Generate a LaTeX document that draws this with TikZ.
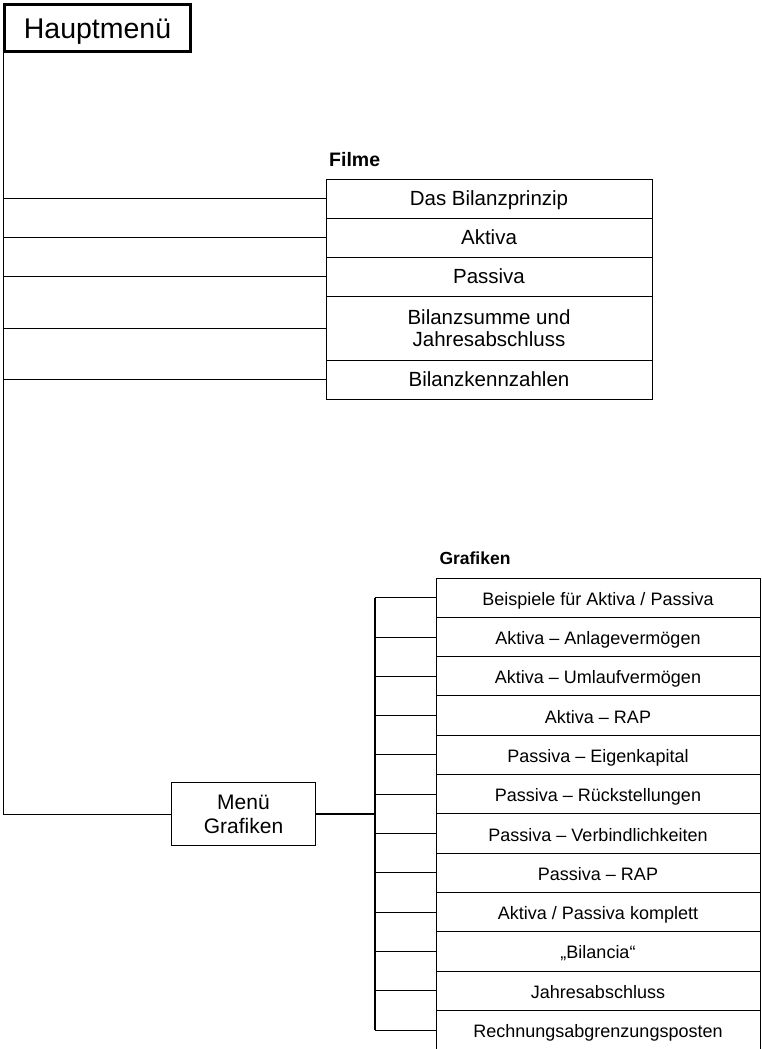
\documentclass[tikz,border=0pt]{standalone}
\usepackage{fontspec}
\setmainfont{Liberation Sans}
\usetikzlibrary{positioning}
\tikzset{
	zeile/.style={draw,line width=0.9pt,inner sep=0pt,outer sep=0pt,align=center},
	film/.style={zeile,minimum width=326pt,minimum height=39pt,text height=14.7pt,text depth=0pt,font=\fontsize{20.5}{22}\selectfont},
	grafik/.style={zeile,minimum width=324pt,minimum height=39.3pt,text height=15.1pt,text depth=0pt,font=\fontsize{18}{21}\selectfont},
	titel/.style={inner sep=0pt,anchor=base west,font=\bfseries\fontsize{19.5}{22}\selectfont},
	ast/.style={line width=0.8pt}
}
\newcommand{\filmzeile}[4][]{
	\node [film,#1,below=0pt of #2] (#3) {#4};
	\draw [ast] (#3.west) -- (#3.west -| haupt.south west)
}
\newcommand{\grafikzeile}[3]{
	\node [grafik,below=0pt of #1] (#2) {#3};
	\draw [ast] (#2.west) -- (#2.west -| bus)
}

\begin{document}
\begin{tikzpicture}[x=1pt,y=-1pt]
	\useasboundingbox (0,0) rectangle (762,1049);
	\clip (0,0) rectangle (762,1049);

	% Hauptmenue
	\node [draw,line width=3pt,minimum width=186pt,minimum height=47pt,inner sep=0pt,text height=21pt,text depth=0pt,font=\fontsize{28.5}{32}\selectfont] (haupt) at (97.5,28) {Hauptmenü};

	% Filme
	\node [film] (f1) at (489,198.5) {Das Bilanzprinzip};
	\draw [ast] (f1.west) -- (f1.west -| haupt.south west);
	\filmzeile {f1}{f2}{Aktiva};
	\filmzeile {f2}{f3}{Passiva};
	\filmzeile [minimum height=64pt,text height=,text depth=]{f3}{f4}{Bilanzsumme und\\Jahresabschluss};
	\filmzeile {f4}{f5}{Bilanzkennzahlen};
	\node [titel] (filme) at ([shift={(3pt,12.5pt)}]f1.north west) {Filme};

	% Menue Grafiken
	\node [zeile,minimum width=143.5pt,minimum height=62.3pt,font=\fontsize{21}{24}\selectfont] (mg) at (243.5,813.9) {Menü\\Grafiken};
	\draw [ast] (haupt.south west) |- (mg.west);
	\coordinate (bus) at (375,813.9);
	\draw [line width=1.6pt] (mg.east) -- (bus);

	% Grafiken
	\node [grafik] (g1) at (598,597.65) {Beispiele für Aktiva / Passiva};
	\draw [ast] (g1.west) -- (g1.west -| bus);
	\grafikzeile {g1}{g2}{Aktiva – Anlagevermögen};
	\grafikzeile {g2}{g3}{Aktiva – Umlaufvermögen};
	\grafikzeile {g3}{g4}{Aktiva – RAP};
	\grafikzeile {g4}{g5}{Passiva – Eigenkapital};
	\grafikzeile {g5}{g6}{Passiva – Rückstellungen};
	\grafikzeile {g6}{g7}{Passiva – Verbindlichkeiten};
	\grafikzeile {g7}{g8}{Passiva – RAP};
	\grafikzeile {g8}{g9}{Aktiva / Passiva komplett};
	\grafikzeile {g9}{g10}{„Bilancia“};
	\grafikzeile {g10}{g11}{Jahresabschluss};
	\grafikzeile {g11}{g12}{Rechnungsabgrenzungsposten};
	\draw [line width=1.3pt] (g1.west -| bus) -- (g12.west -| bus);
	\node [titel,font=\bfseries\fontsize{17.5}{20}\selectfont] (grafiken) at ([shift={(3.3pt,13.7pt)}]g1.north west) {Grafiken};

\end{tikzpicture}
\end{document}
